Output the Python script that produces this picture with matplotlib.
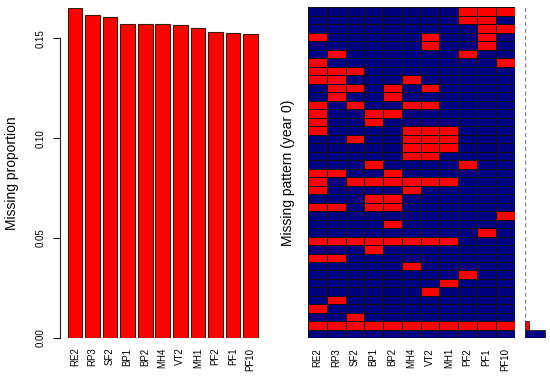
import numpy as np
import matplotlib
matplotlib.use("Agg")
import matplotlib.pyplot as plt
from matplotlib.colors import ListedColormap

plt.rcParams['font.family'] = ['Liberation Sans', 'DejaVu Sans']

# ---------------- data ----------------
variables = ["RE2", "RP3", "SF2", "BP1", "BP2", "MH4", "VT2", "MH1", "PF2", "PF1", "PF10"]
missing_prop = [0.1653, 0.1617, 0.1605, 0.1570, 0.1570, 0.1570, 0.1568, 0.1552, 0.1533, 0.1528, 0.1520]

# missing patterns, top row first: indices of missing variables
pattern_missing = [
    [8, 9, 10],
    [8, 9],
    [9, 10],
    [0, 6, 9],
    [6, 9],
    [1, 8],
    [0, 10],
    [0, 1, 2],
    [0, 1, 5],
    [1, 2, 4, 6],
    [1, 4],
    [0, 2, 5, 6],
    [0, 3, 4],
    [0, 3],
    [0, 5, 6, 7],
    [2, 5, 6, 7],
    [5, 6, 7],
    [5, 6],
    [3, 8],
    [0, 1, 4],
    [0, 2, 3, 4, 5, 6, 7],
    [0, 5],
    [3, 4],
    [0, 1, 3, 4],
    [10],
    [4],
    [9],
    [0, 1, 2, 3, 4, 5, 6, 7],
    [3],
    [0, 1],
    [5],
    [8],
    [7],
    [6],
    [1],
    [0],
    [2],
    [0, 1, 2, 3, 4, 5, 6, 7, 8, 9, 10],
    [],
]
# proportion of each pattern (top row first)
pattern_freq = [0.004, 0.004, 0.004, 0.004, 0.004, 0.004, 0.004, 0.004, 0.004, 0.004,
                0.004, 0.004, 0.004, 0.004, 0.004, 0.004, 0.004, 0.004, 0.004, 0.004,
                0.004, 0.004, 0.004, 0.004, 0.004, 0.004, 0.004, 0.004, 0.004, 0.004,
                0.004, 0.004, 0.004, 0.004, 0.004, 0.004, 0.004, 0.150, 0.700]

# ---------------- figure ----------------
W, H = 550, 378
fig = plt.figure(figsize=(W / 100, H / 100), dpi=100)

def frac(x0, y0, x1, y1):
    return [x0 / W, 1 - y1 / H, (x1 - x0) / W, (y1 - y0) / H]

NAVY = "#000080"
RED = "#FF0000"

# left barplot
ax1 = fig.add_axes(frac(60, 7.7, 265.5, 337.9))
n = len(variables)
centers = [0.7 + 1.2 * i for i in range(n)]
ax1.bar(centers, missing_prop, width=1.0, color=RED, edgecolor="#3a1a00", linewidth=0.8)
ax1.set_xlim(-0.32, 13.72)
ax1.set_ylim(0, max(missing_prop))
for s in ["top", "right", "bottom"]:
    ax1.spines[s].set_visible(False)
ax1.spines["left"].set_bounds(0, 0.15)
ax1.spines["left"].set_linewidth(0.8)
ax1.spines["left"].set_color("#222222")
ax1.set_yticks([0.00, 0.05, 0.10, 0.15])
ax1.set_yticklabels(["0.00", "0.05", "0.10", "0.15"], rotation=90, va="center")
ax1.tick_params(axis="y", length=5, width=0.8, pad=5, labelsize=7, color="#222222")
ax1.set_xticks(centers)
ax1.set_xticklabels(variables, rotation=90, fontsize=7)
ax1.tick_params(axis="x", length=0, pad=7)

fig.text(12 / W, 1 - 172.8 / H, "Missing proportion", rotation=90,
         ha="center", va="center", fontsize=10)

# right pattern grid
ax2 = fig.add_axes(frac(308, 7.3, 514.5, 338.4))
nrows = len(pattern_missing)
M = np.zeros((nrows, n))
for r, cols in enumerate(pattern_missing):
    for c in cols:
        M[r, c] = 1
ax2.pcolormesh(np.arange(n + 1), np.arange(nrows + 1), M,
               cmap=ListedColormap([NAVY, RED]), vmin=0, vmax=1,
               edgecolors="#111111", linewidth=0.4)
ax2.set_xlim(0, n)
ax2.set_ylim(nrows, 0)
for s in ax2.spines.values():
    s.set_visible(False)
ax2.set_yticks([])
ax2.set_xticks(np.arange(n) + 0.5)
ax2.set_xticklabels(variables, rotation=90, fontsize=7)
ax2.tick_params(axis="x", length=0, pad=7)

fig.text(288 / W, 1 - 172.8 / H, "Missing pattern (year 0)", rotation=90,
         ha="center", va="center", fontsize=10)

# side frequency bars
ax3 = fig.add_axes(frac(525, 7.3, 550, 338.4))
ax3.set_xlim(0, 0.875)
ax3.set_ylim(nrows, 0)
ax3.axvline(0, color="#8a8a8a", linewidth=1.0, linestyle=(0, (3, 2)), zorder=1)
bar_cols = [RED if len(p) > 0 else NAVY for p in pattern_missing]
lws = [0.6 if f > 0.01 else 0 for f in pattern_freq]
ax3.barh(np.arange(nrows) + 0.5, pattern_freq, height=1.0, color=bar_cols,
         edgecolor="#222222", linewidth=lws, zorder=2)
ax3.axis("off")

fig.savefig("out.png", dpi=100)
